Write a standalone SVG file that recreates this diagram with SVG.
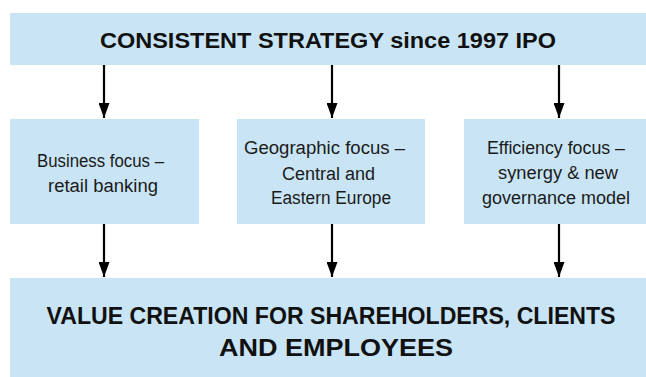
<svg xmlns="http://www.w3.org/2000/svg" width="646" height="377" viewBox="0 0 646 377">
  <style>
    .box { fill: #c9e5f5; }
    .title { font-family: "Liberation Sans", Arial, sans-serif; font-weight: bold; fill: #111; }
    .lbl { font-family: "Liberation Sans", Arial, sans-serif; font-size: 18px; fill: #1a1a1a; }
    .conn { stroke: #000; stroke-width: 2.2; fill: none; marker-end: url(#ah); }
  </style>
  <defs>
    <marker id="ah" markerUnits="userSpaceOnUse" markerWidth="15" markerHeight="11" refX="15" refY="5.5" orient="auto" viewBox="0 0 15 11">
      <path d="M0,0 L15,5.5 L0,11 Z" fill="#000"/>
    </marker>
  </defs>
  <rect width="646" height="377" fill="#ffffff"/>
  <g id="top">
    <rect class="box" x="10" y="13" width="636" height="52"/>
    <text class="title" x="328" y="48" font-size="22" text-anchor="middle" textLength="456" lengthAdjust="spacingAndGlyphs">CONSISTENT STRATEGY since 1997 IPO</text>
  </g>
  <g id="business">
    <rect class="box" x="10" y="119" width="189" height="105"/>
    <text class="lbl" x="100.5" y="167" text-anchor="middle" textLength="127" lengthAdjust="spacingAndGlyphs">Business focus –</text>
    <text class="lbl" x="103" y="192" text-anchor="middle" textLength="110" lengthAdjust="spacingAndGlyphs">retail banking</text>
  </g>
  <g id="geographic">
    <rect class="box" x="237" y="119" width="188" height="105"/>
    <text class="lbl" x="324.5" y="154" text-anchor="middle" textLength="161" lengthAdjust="spacingAndGlyphs">Geographic focus –</text>
    <text class="lbl" x="328.5" y="180" text-anchor="middle" textLength="93" lengthAdjust="spacingAndGlyphs">Central and</text>
    <text class="lbl" x="331" y="204" text-anchor="middle" textLength="120" lengthAdjust="spacingAndGlyphs">Eastern Europe</text>
  </g>
  <g id="efficiency">
    <rect class="box" x="464" y="119" width="182" height="105"/>
    <text class="lbl" x="556" y="154" text-anchor="middle" textLength="138" lengthAdjust="spacingAndGlyphs">Efficiency focus –</text>
    <text class="lbl" x="558" y="179" text-anchor="middle" textLength="120" lengthAdjust="spacingAndGlyphs">synergy &amp; new</text>
    <text class="lbl" x="556" y="204" text-anchor="middle" textLength="148" lengthAdjust="spacingAndGlyphs">governance model</text>
  </g>
  <g id="value">
    <rect class="box" x="10" y="278" width="636" height="99"/>
    <text class="title" x="331" y="324" font-size="23" text-anchor="middle" textLength="569" lengthAdjust="spacingAndGlyphs">VALUE CREATION FOR SHAREHOLDERS, CLIENTS</text>
    <text class="title" x="336" y="356" font-size="23" text-anchor="middle" textLength="234" lengthAdjust="spacingAndGlyphs">AND EMPLOYEES</text>
  </g>
  <g id="connectors">
    <line class="conn" x1="104" y1="65" x2="104" y2="118"/>
    <line class="conn" x1="332" y1="65" x2="332" y2="118"/>
    <line class="conn" x1="559" y1="65" x2="559" y2="118"/>
    <line class="conn" x1="104" y1="224" x2="104" y2="277"/>
    <line class="conn" x1="332" y1="224" x2="332" y2="277"/>
    <line class="conn" x1="559" y1="224" x2="559" y2="277"/>
  </g>
</svg>
